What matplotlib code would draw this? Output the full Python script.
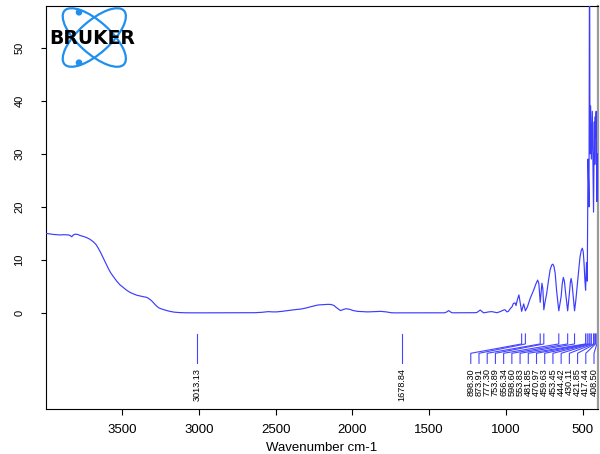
import matplotlib
matplotlib.use("Agg")
import matplotlib.pyplot as plt
from matplotlib.patches import Ellipse, Circle

# ---------------- data ----------------
wavenumber = [
    3995, 3970, 3948, 3925, 3904, 3880, 3850, 3838, 3828, 3818, 3806, 3790, 3774, 3750,
    3731, 3710, 3687, 3670, 3655, 3640, 3622, 3605, 3590, 3575, 3557, 3535, 3514, 3490,
    3471, 3450, 3427, 3405, 3384, 3360, 3341, 3325, 3308, 3292, 3276, 3260, 3243, 3215,
    3189, 3160, 3124, 3080, 3040, 3013, 2990, 2900, 2800, 2700, 2636, 2590, 2549, 2520,
    2495, 2460, 2420, 2380, 2333, 2300, 2268, 2245, 2225, 2200, 2182, 2160, 2139, 2120,
    2107, 2090, 2078, 2060, 2042, 2020, 1995, 1966, 1930, 1901, 1860, 1815, 1780, 1750,
    1729, 1700, 1678, 1650, 1600, 1500, 1400, 1385, 1374, 1362, 1351, 1250, 1200, 1189,
    1175, 1168, 1158, 1146, 1130, 1114, 1092, 1075, 1059, 1038, 1016, 1006, 994, 985,
    970, 962, 952, 941, 935, 925, 916, 908, 898.3, 885, 873.9, 860, 842, 820, 805, 794,
    786, 777.3, 766, 760, 753.9, 745, 735, 724, 713, 703, 695, 688, 680, 670, 656.3,
    641, 634, 627, 620, 611, 598.6, 588, 581, 576, 570, 562, 553.8, 545, 535, 527, 518,
    510, 503, 497, 492, 486, 481.85, 476, 470.97, 466, 462, 459.63, 456, 453.45, 449,
    444.42, 438, 430.11, 425, 421.85, 419, 417.44, 413, 408.5, 404,
]
signal = [
    15.0, 14.9, 14.8, 14.75, 14.7, 14.75, 14.7, 14.6, 14.35, 14.7, 14.85, 14.8, 14.6, 14.4,
    14.2, 13.9, 13.4, 12.9, 12.2, 11.4, 10.3, 9.3, 8.4, 7.6, 6.85, 6.0, 5.3, 4.75,
    4.3, 3.9, 3.6, 3.35, 3.2, 3.05, 2.95, 2.7, 2.3, 1.8, 1.3, 0.95, 0.75, 0.5,
    0.3, 0.15, 0.07, 0.03, 0.02, 0.0, 0.02, 0.03, 0.05, 0.05, 0.05, 0.12, 0.25, 0.2,
    0.2, 0.3, 0.45, 0.6, 0.75, 0.95, 1.2, 1.35, 1.5, 1.55, 1.6, 1.62, 1.6, 1.4,
    1.07, 0.7, 0.45, 0.65, 0.8, 0.7, 0.45, 0.3, 0.25, 0.2, 0.25, 0.3, 0.2, 0.05,
    0.02, 0.02, 0.0, 0.02, 0.02, 0.02, 0.03, 0.2, 0.45, 0.2, 0.03, 0.03, 0.05, 0.1,
    0.4, 0.55, 0.3, 0.03, 0.1, 0.2, 0.25, 0.15, 0.05, 0.25, 0.55, 0.6, 0.2, 0.3,
    0.9, 1.1, 1.8, 1.9, 1.4, 2.6, 3.4, 2.0, 0.3, 1.7, 0.4, 1.2, 2.8, 4.3, 5.5, 6.2,
    5.5, 2.0, 5.6, 4.5, 0.6, 2.2, 3.7, 6.0, 8.1, 9.0, 9.2, 8.8, 7.5, 4.0, 0.4,
    3.1, 5.5, 6.7, 6.0, 3.5, 0.4, 3.5, 5.8, 6.5, 5.5, 3.0, 0.4, 2.5, 5.6, 8.0, 10.6,
    11.8, 12.2, 11.5, 9.4, 6.0, 4.3, 9.5, 6.0, 29.0, 24.0, 20.0, 75.0, 30.0, 39.0,
    29.0, 38.0, 19.0, 36.0, 28.0, 37.0, 33.0, 38.0, 21.0, 30.0,
]

isolated_peaks = [3013.13, 1678.84]
isolated_labels = ["3013.13", "1678.84"]
cluster_peaks = [898.30, 873.91, 777.30, 753.89, 656.34, 598.60, 553.83, 481.85,
                 470.97, 459.63, 453.45, 444.42, 430.11, 421.85, 417.44, 408.50]
cluster_labels = ["898.30", "873.91", "777.30", "753.89", "656.34", "598.60",
                  "553.83", "481.85", "470.97", "459.63", "453.45", "444.42",
                  "430.11", "421.85", "417.44", "408.50"]

x_ticks = [3500, 3000, 2500, 2000, 1500, 1000, 500]
y_ticks = [0, 10, 20, 30, 40, 50]

# ---------------- styling ----------------
NARROW = ["Liberation Sans Narrow", "Liberation Sans", "DejaVu Sans"]
plt.rcParams["font.family"] = NARROW
line_color = "#3c3cff"
peak_color = "#4646ff"
label_size = 6.6

W, H = 600, 454
fig = plt.figure(figsize=(W / 100, H / 100), dpi=100)
L, R, T, B = 46, 597.5, 6, 409
ax = fig.add_axes([L / W, 1 - B / H, (R - L) / W, (B - T) / H])

ax.plot(wavenumber, signal, color=line_color, lw=0.85, zorder=3)
ax.set_xlim(3995.6, 404.3)
ax.set_ylim(-18.1, 57.85)

# peak annotation lines (Bruker style)
y_a, y_b, y_c, y_d, y_t = -3.96, -5.84, -7.6, -9.5, -10.4
for p, lab in zip(isolated_peaks, isolated_labels):
    ax.plot([p, p], [y_a, y_d], color=peak_color, lw=0.8)
    ax.text(p, y_t, lab, rotation=90, ha="center", va="top", fontsize=label_size,
            family=["Liberation Sans", "DejaVu Sans"])

n = len(cluster_peaks)
right_label = 427.0
spacing = 53.5
for i, (p, lab) in enumerate(zip(cluster_peaks, cluster_labels)):
    lx = right_label + spacing * (n - 1 - i)
    ax.plot([p, p, lx, lx], [y_a, y_b, y_c, y_d], color=peak_color, lw=0.8)
    ax.text(lx, y_t, lab, rotation=90, ha="center", va="top", fontsize=label_size,
            family=["Liberation Sans", "DejaVu Sans"])

ax.set_xticks(x_ticks)
ax.set_xticklabels([str(t) for t in x_ticks], fontsize=9.5)
ax.set_yticks(y_ticks)
ax.set_yticklabels([str(t) for t in y_ticks], fontsize=8, rotation=90, va="center")
ax.tick_params(axis="x", direction="out", length=4.3, width=0.8, pad=6.5)
ax.tick_params(axis="y", direction="out", length=3.6, width=0.8, pad=12)
ax.set_xlabel("Wavenumber cm-1", fontsize=9.5, labelpad=4)

for s in ["left", "bottom", "top"]:
    ax.spines[s].set_color("black")
    ax.spines[s].set_linewidth(0.8)
ax.spines["right"].set_color("#9a9a9a")
ax.spines["right"].set_linewidth(1.6)

# ---------------- Bruker logo ----------------
lx0, lx1, ly0, ly1 = 40, 150, 2, 74
lax = fig.add_axes([lx0 / W, 1 - ly1 / H, (lx1 - lx0) / W, (ly1 - ly0) / H])
lax.set_xlim(lx0, lx1)
lax.set_ylim(ly1, ly0)
lax.axis("off")
logo_blue = "#1f8ff0"
cx, cy = 94.3, 37.5
for ang in (42, -42):
    lax.add_patch(Ellipse((cx, cy), 80, 32, angle=ang, fill=False,
                          edgecolor=logo_blue, lw=1.6))
for dy in (-25.2, 25.2):
    lax.add_patch(Circle((cx - 15.3, cy + dy), 2.6, color=logo_blue))
lax.text(92.5, 38.5, "BRUKER", ha="center", va="center", fontsize=13.5,
         fontweight="bold", color="black", family=["DejaVu Sans"], zorder=5)

fig.savefig("out.png", dpi=100)
